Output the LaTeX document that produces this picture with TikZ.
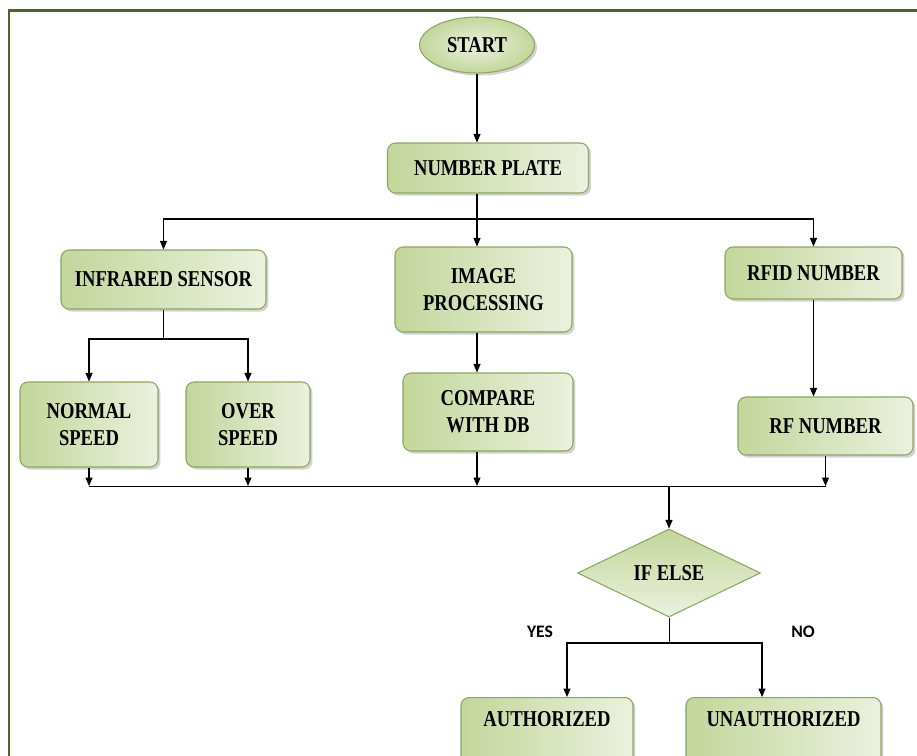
\documentclass[tikz,border=0pt]{standalone}
\usepackage{fontspec}
\usepackage{tikz}
\usetikzlibrary{arrows.meta, positioning, shapes, shapes.geometric, shadows}
\newfontfamily\boxfont[FakeStretch=0.82]{Liberation Serif}
\newfontfamily\answerfont{Carlito}
\definecolor{FlowOlive}{HTML}{4F6228}
\definecolor{FlowEdge}{HTML}{8BA660}
\definecolor{FlowDark}{HTML}{C3D69B}
\definecolor{FlowLight}{HTML}{EBF1DE}
\colorlet{FrameLine}{FlowOlive}
\tikzset{
  flow/.style={draw=FlowEdge, line width=0.6pt, inner sep=0pt, align=center,
    font=\boxfont\bfseries\fontsize{12.9pt}{15.4pt}\selectfont},
  box/.style={flow, rounded corners=0.16cm, left color=FlowDark, right color=FlowLight,
    drop shadow={shadow xshift=0.05cm, shadow yshift=-0.05cm, opacity=0.35}},
  startnode/.style={flow, ellipse, inner color=FlowLight, outer color=FlowDark,
    minimum width=2.3cm, minimum height=1.12cm,
    drop shadow={shadow xshift=0.05cm, shadow yshift=-0.05cm, opacity=0.35}},
  decision/.style={flow, diamond, aspect=2.08, top color=FlowDark, bottom color=FlowLight,
    minimum width=3.66cm, minimum height=1.76cm},
  endbox/.style={box, anchor=north, text height=0.3cm, text depth=1.5cm, inner ysep=0.27cm},
  answer/.style={font=\answerfont\bfseries\fontsize{10pt}{12pt}\selectfont},
  arr/.style={-{Triangle[length=0.17cm, width=0.14cm]}, line width=0.6pt}
}
\begin{document}
\begin{tikzpicture}[x=0.02cm, y=-0.02cm]

    % Page and frame
    \useasboundingbox (0,0) rectangle (917,755);
    \clip (0,0) rectangle (917,755);
    \fill[white] (0,0) rectangle (917,755);
    \draw[FrameLine, line width=0.06cm] (9,760) -- (9,10) -- (920,10);

    % Steps
    \node[startnode] (start) at (477,45) {START};
    \node[box, minimum width=4.02cm, minimum height=1cm] (plate) at (488,168) {NUMBER PLATE};
    \node[box, minimum width=4.1cm, minimum height=1.18cm] (infrared) at (163.5,279.5) {INFRARED SENSOR};
    \node[box, minimum width=3.54cm, minimum height=1.7cm] (image) at (483.5,289.5) {IMAGE\\PROCESSING};
    \node[box, minimum width=3.54cm, minimum height=1.04cm] (rfid) at (813.5,273) {RFID NUMBER};
    \node[box, minimum width=2.76cm, minimum height=1.7cm] (normal) at (89,424.5) {NORMAL\\SPEED};
    \node[box, minimum width=2.48cm, minimum height=1.7cm] (over) at (248,424.5) {OVER\\SPEED};
    \node[box, minimum width=3.4cm, minimum height=1.56cm] (compare) at (488,412) {COMPARE\\WITH DB};
    \node[box, minimum width=3.5cm, minimum height=1.16cm] (rfnum) at (825.5,426) {RF NUMBER};
    \node[decision] (ifelse) at (669,573) {IF ELSE};
    \node[endbox, minimum width=3.44cm] (auth) at (547,697) {AUTHORIZED};
    \node[endbox, minimum width=3.9cm] (unauth) at (783.5,697) {UNAUTHORIZED};
    \node[answer] (yes) at (540,632) {YES};
    \node[answer] (no) at (803,632) {NO};

    % Split and join points
    \coordinate (split) at (477,219);
    \coordinate (irsplit) at (163.5,339);
    \coordinate (join) at (669,486);
    \coordinate (decide) at (669,643);

    % Connectors
    \draw[arr] (start) -- (start |- plate.north);
    \draw[arr] (start |- plate.south) -- (start |- image.north);
    \draw[arr] (split) -| (infrared);
    \draw[arr] (split) -| (rfid);
    \draw (infrared) -- (irsplit);
    \draw[arr] (irsplit) -| (normal);
    \draw[arr] (irsplit) -| (over);
    \draw[arr] (start |- image.south) -- (start |- compare.north);
    \draw[arr] (rfid) -- (rfid |- rfnum.north);
    \foreach \n in {normal, over, rfnum}
        \draw[arr] (\n) -- (\n |- join);
    \draw[arr] (start |- compare.south) -- (start |- join);
    \draw (normal |- join) -- (rfnum |- join);
    \draw[arr] (join) -- (ifelse);
    \draw (ifelse) -- (decide);
    \draw[arr] (decide) -| ([xshift=0.4cm]auth.north);
    \draw[arr] (decide) -| ([xshift=-0.43cm]unauth.north);

\end{tikzpicture}
\end{document}
